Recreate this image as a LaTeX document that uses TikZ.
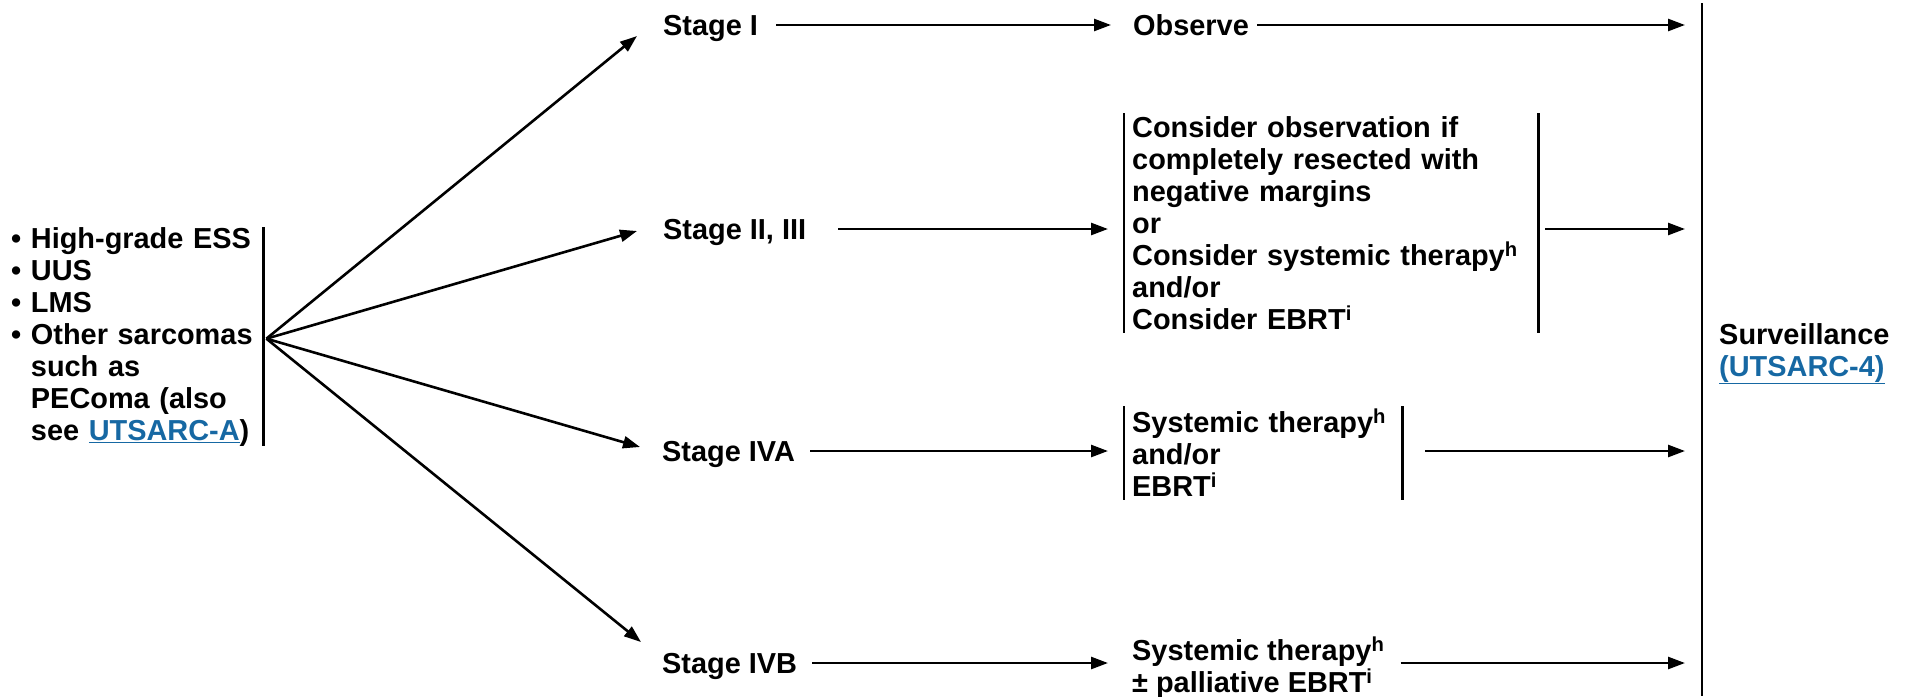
\documentclass[tikz,border=0pt]{standalone}
\usepackage{fontspec}
\setmainfont{Liberation Sans}
\usetikzlibrary{arrows.meta,calc}
\definecolor{linkblue}{RGB}{22,104,163}
\newcommand{\lnk}[1]{\textcolor{linkblue}{\underline{#1}}}

\begin{document}
\begin{tikzpicture}[x=1pt,y=-1pt,
  every node/.style={font=\fontsize{28.9}{32}\selectfont\bfseries, inner sep=0pt},
  lbl/.style={anchor=west, text height=21pt, text depth=0pt},
  block/.style={align=left, anchor=north west},
  arr/.style={line width=2.6pt, -{Triangle[length=17pt,width=12pt]}},
  bar/.style={line width=2.6pt}]
\useasboundingbox (0,0) rectangle (1910,696);

% source histologies
\node[block, text width=252pt] (src) at (11,227)
  {• High-grade ESS\\• UUS\\• LMS\\• Other sarcomas\\\hphantom{• }such as\\\hphantom{• }PEComa (also\\\hphantom{• }see \lnk{UTSARC-A})};
\draw[bar] (src.north east) -- (src.south east);
\coordinate (fan) at ($(src.east)+(3,2)$);

% stages
\node[lbl] (s1)  at (663,25)  {Stage I};
\node[lbl] (s2)  at (663,229) {Stage II, III};
\node[lbl] (s4a) at (662,451) {Stage IVA};
\node[lbl] (s4b) at (662,663) {Stage IVB};

\coordinate (t1)  at (637,36);
\coordinate (t2)  at (637,231);
\coordinate (t4a) at (640,447);
\coordinate (t4b) at (641,642);
\draw[arr] (fan) -- (t1);
\draw[arr] (fan) -- (t2);
\draw[arr] (fan) -- (t4a);
\draw[arr] (fan) -- (t4b);

% treatments
\node[lbl] (obs) at (1133,25) {Observe};
\node[block, text width=398pt, inner xsep=8pt, inner ysep=3pt] (b2) at (1124,113)
  {Consider observation if\\completely resected with\\negative margins\\or\\Consider systemic therapy\textsuperscript{h}\\and/or\\Consider EBRT\textsuperscript{i}};
\draw[bar] (b2.north west) -- (b2.south west);
\draw[bar] (b2.north east) -- (b2.south east);
\node[block, text width=262pt, inner xsep=8pt, inner ysep=3pt] (b4a) at (1124,406)
  {Systemic therapy\textsuperscript{h}\\and/or\\EBRT\textsuperscript{i}};
\draw[bar] (b4a.north west) -- (b4a.south west);
\draw[bar] (b4a.north east) -- (b4a.south east);
\node[block, inner xsep=8pt] (b4b) at (1124,637)
  {Systemic therapy\textsuperscript{h}\\± palliative EBRT\textsuperscript{i}};

\draw[arr] ($(s1.east)+(18,0)$) -- ($(obs.west)+(-22,0)$);
\draw[arr] ($(s2.east)+(32,0)$) -- ($(b2.west |- s2.east)+(-16,0)$);
\draw[arr] ($(s4a.east)+(15,0)$) -- ($(b4a.west |- s4a.east)+(-16,0)$);
\draw[arr] ($(s4b.east)+(15,0)$) -- ($(b4b.west |- s4b.east)+(-16,0)$);

% surveillance
\coordinate (sbt) at (1702,3);
\coordinate (sbb) at (1702,696);
\draw[bar] (sbt) -- (sbb);
\node[block] (surv) at (1719,323) {Surveillance\\\lnk{(UTSARC-4)}};

\draw[arr] ($(obs.east)+(8,0)$) -- ($(sbt |- obs.east)+(-17,0)$);
\draw[arr] ($(b2.east |- s2.east)+(7,0)$) -- ($(sbt |- s2.east)+(-17,0)$);
\draw[arr] ($(b4a.east |- s4a.east)+(23,0)$) -- ($(sbt |- s4a.east)+(-17,0)$);
\draw[arr] ($(b4b.east |- s4b.east)+(8,0)$) -- ($(sbt |- s4b.east)+(-17,0)$);
\end{tikzpicture}
\end{document}
